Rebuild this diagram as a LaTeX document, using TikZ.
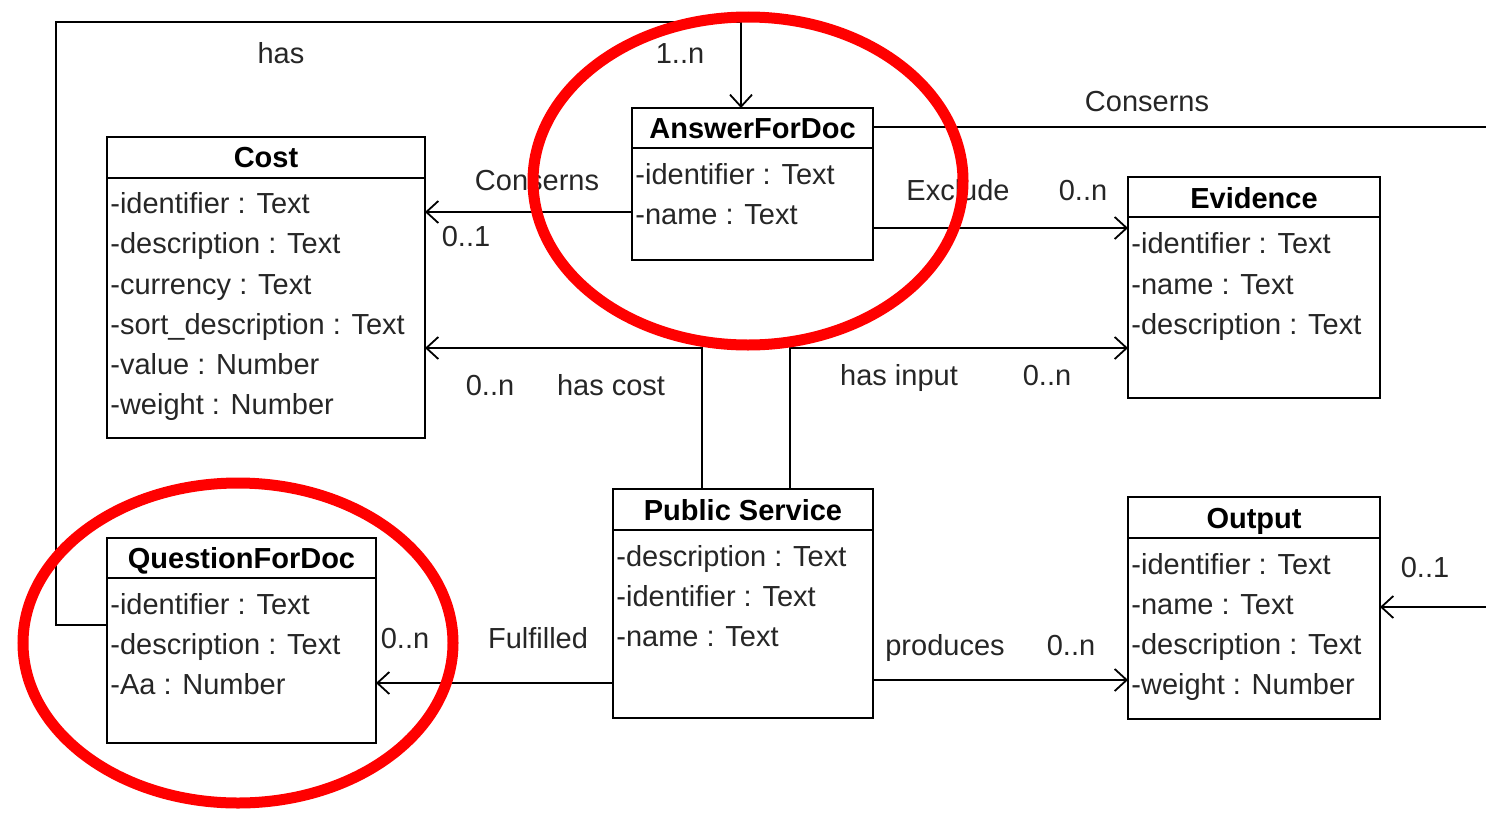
\documentclass[tikz,border=0pt]{standalone}
\usepackage{fontspec}
\setmainfont{Liberation Sans}
\usetikzlibrary{arrows.meta}
\begin{document}
\begin{tikzpicture}[x=0.5pt,y=-0.5pt,
  font=\fontsize{14.5pt}{17pt}\selectfont,
  cls/.style={draw, line width=1.1pt, anchor=north west, inner sep=0pt, outer sep=0pt},
  attr/.style={anchor=base west, inner sep=0pt, xshift=1.5pt, text=black!85},
  ttl/.style={anchor=base, inner sep=0pt, font=\fontsize{14.5pt}{17pt}\selectfont\bfseries},
  lbl/.style={anchor=base, inner sep=0pt, text=black!85},
  assoc/.style={draw, line width=0.9pt},
  arr/.style={assoc, -{Straight Barb[length=6pt,width=11pt,line width=0.9pt]}},
  hilite/.style={draw=red, line width=5.5pt}]
\useasboundingbox (0,0) rectangle (1486,819);

% ---- class boxes ----
\node[cls, minimum width=159pt, minimum height=150.5pt] (cost) at (107,137) {};
\node[cls, minimum width=120.5pt, minimum height=76pt] (afd) at (632,108) {};
\node[cls, minimum width=126pt, minimum height=110.5pt] (ev) at (1128,177) {};
\node[cls, minimum width=134.5pt, minimum height=102.5pt] (qfd) at (107,538) {};
\node[cls, minimum width=130pt, minimum height=114.5pt] (ps) at (613,489) {};
\node[cls, minimum width=126pt, minimum height=111pt] (out) at (1128,497) {};

% header separators
\draw[line width=1.1pt] (cost.west |- 0,178) -- (cost.east |- 0,178);
\draw[line width=1.1pt] (afd.west |- 0,148) -- (afd.east |- 0,148);
\draw[line width=1.1pt] (ev.west |- 0,217) -- (ev.east |- 0,217);
\draw[line width=1.1pt] (qfd.west |- 0,578) -- (qfd.east |- 0,578);
\draw[line width=1.1pt] (ps.west |- 0,530) -- (ps.east |- 0,530);
\draw[line width=1.1pt] (out.west |- 0,538) -- (out.east |- 0,538);

% titles
\node[ttl] (costT) at (cost.north |- 0,167) {Cost};
\node[ttl] (afdT) at (afd.north |- 0,138) {AnswerForDoc};
\node[ttl] (evT) at (ev.north |- 0,208) {Evidence};
\node[ttl] (qfdT) at (qfd.north |- 0,568) {QuestionForDoc};
\node[ttl] (psT) at (ps.north |- 0,520) {Public Service};
\node[ttl] (outT) at (out.north |- 0,528) {Output};

% attributes
\node[attr] (c1) at (cost.west |- 0,213) {-identifier : Text};
\node[attr] (c2) at (cost.west |- 0,253) {-description : Text};
\node[attr] (c3) at (cost.west |- 0,294) {-currency : Text};
\node[attr] (c4) at (cost.west |- 0,334) {-sort\_description : Text};
\node[attr] (c5) at (cost.west |- 0,374) {-value : Number};
\node[attr] (c6) at (cost.west |- 0,414) {-weight : Number};

\node[attr] (a1) at (afd.west |- 0,184) {-identifier : Text};
\node[attr] (a2) at (afd.west |- 0,224) {-name : Text};

\node[attr] (e1) at (ev.west |- 0,253) {-identifier : Text};
\node[attr] (e2) at (ev.west |- 0,294) {-name : Text};
\node[attr] (e3) at (ev.west |- 0,334) {-description : Text};

\node[attr] (q1) at (qfd.west |- 0,614) {-identifier : Text};
\node[attr] (q2) at (qfd.west |- 0,654) {-description : Text};
\node[attr] (q3) at (qfd.west |- 0,694) {-Aa : Number};

\node[attr] (p1) at (ps.west |- 0,566) {-description : Text};
\node[attr] (p2) at (ps.west |- 0,606) {-identifier : Text};
\node[attr] (p3) at (ps.west |- 0,646) {-name : Text};

\node[attr] (o1) at (out.west |- 0,574) {-identifier : Text};
\node[attr] (o2) at (out.west |- 0,614) {-name : Text};
\node[attr] (o3) at (out.west |- 0,654) {-description : Text};
\node[attr] (o4) at (out.west |- 0,694) {-weight : Number};

% ---- connectors ----
\coordinate (rA) at (1486,127);
\coordinate (rB) at (1486,607);

\draw[arr] (qfd.west |- 0,625) -- (56,625) -- (56,22) -- (741,22) -- (afd.north -| 741,0);
\draw[arr] (afd.west |- 0,212) -- (cost.east |- 0,212);
\draw[arr] (afd.east |- 0,228) -- (ev.west |- 0,228);
\draw[assoc] (afd.east |- 0,127) -- (rA);
\draw[arr] (ps.north -| 702,0) -- (702,348) -- (cost.east |- 0,348);
\draw[arr] (ps.north -| 790,0) -- (790,348) -- (ev.west |- 0,348);
\draw[arr] (ps.west |- 0,683) -- (qfd.east |- 0,683);
\draw[arr] (ps.east |- 0,680) -- (out.west |- 0,680);
\draw[arr] (rB) -- (out.east |- 0,607);

% ---- labels ----
\node[lbl] (l1) at (281,63) {has};
\node[lbl] (l2) at (680,63) {1..n};
\node[lbl] (l3) at (1147,111) {Conserns};
\node[lbl] (l4) at (537,190) {Conserns};
\node[lbl] (l5) at (466,246) {0..1};
\node[lbl] (l6) at (958,200) {Exclude};
\node[lbl] (l7) at (1083,200) {0..n};
\node[lbl] (l8) at (490,395) {0..n};
\node[lbl] (l9) at (611,395) {has cost};
\node[lbl] (l10) at (899,385) {has input};
\node[lbl] (l11) at (1047,385) {0..n};
\node[lbl] (l12) at (405,648) {0..n};
\node[lbl] (l13) at (538,648) {Fulfilled};
\node[lbl] (l14) at (945,655) {produces};
\node[lbl] (l15) at (1071,655) {0..n};
\node[lbl] (l16) at (1425,577) {0..1};

% ---- red highlight ellipses ----
\draw[hilite] (748,181) ellipse [x radius=107.5pt, y radius=82pt];
\draw[hilite] (238,643) ellipse [x radius=107.5pt, y radius=80pt];
\end{tikzpicture}
\end{document}
